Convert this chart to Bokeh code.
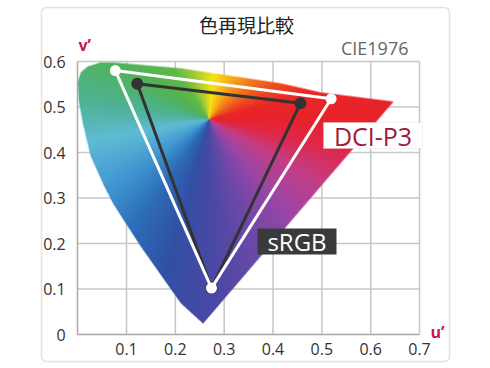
import numpy as np
from bokeh.plotting import figure
from bokeh.models import FixedTicker, Label, BoxAnnotation, Range1d
from bokeh.embed import file_html
from bokeh.resources import INLINE

# ---------------- data ----------------
TITLE = "色再現比較"
SPACE = "CIE1976"
x_ticks = [0.1, 0.2, 0.3, 0.4, 0.5, 0.6, 0.7]
x_labels = ["0.1", "0.2", "0.3", "0.4", "0.5", "0.6", "0.7"]
y_ticks = [0, 0.1, 0.2, 0.3, 0.4, 0.5, 0.6]
y_labels = ["0", "0.1", "0.2", "0.3", "0.4", "0.5", "0.6"]

# spectral locus outline (u', v')
locus_u = [0.256, 0.211, 0.163, 0.129, 0.094, 0.071, 0.053, 0.026, 0.010, 0.002,
           0.000, 0.006, 0.020, 0.047, 0.073, 0.211, 0.415, 0.497, 0.645]
locus_v = [0.024, 0.068, 0.141, 0.193, 0.251, 0.290, 0.328, 0.393, 0.466, 0.514,
           0.554, 0.576, 0.589, 0.598, 0.598, 0.585, 0.552, 0.532, 0.512]

# gamut triangles (G, R, B)
dci_u = [0.077, 0.519, 0.274]
dci_v = [0.580, 0.518, 0.102]
srgb_u = [0.122, 0.456, 0.274]
srgb_v = [0.551, 0.508, 0.102]

# ---------------- layout / styling ----------------
CANVAS_W, CANVAS_H = 490, 368
PX_PER_U, PX_PER_V = 488.3, 455.0
ORIGIN_X, ORIGIN_Y = 77.2, 334.0       # canvas pixel of (0, 0)
U_MIN, U_MAX = 0.0, 0.7
V_MIN, V_MAX = 0.0, 0.6


def U(px):
    return (px - ORIGIN_X) / PX_PER_U


def V(py):
    return (ORIGIN_Y - py) / PX_PER_V


IMG_W = int(round((U_MAX - U_MIN) * PX_PER_U))
IMG_H = int(round((V_MAX - V_MIN) * PX_PER_V))
GRAD_CENTER = (0.268, 0.4725)
hue_stops = [  # angle (deg, screen, ccw from right), rgb
    (0, (232, 34, 44)), (15, (234, 40, 38)), (35, (240, 100, 30)),
    (60, (245, 170, 25)), (85, (246, 228, 20)), (105, (170, 205, 55)),
    (125, (95, 185, 70)), (150, (80, 178, 90)), (172, (78, 178, 150)),
    (190, (95, 188, 212)), (215, (65, 150, 210)), (235, (45, 110, 185)),
    (255, (50, 80, 165)), (272, (75, 72, 165)), (290, (110, 72, 168)),
    (310, (155, 70, 165)), (330, (195, 62, 135)), (348, (225, 40, 70)),
    (360, (232, 34, 44)),
]


def locus_image(ss=3):
    W, H = IMG_W * ss, IMG_H * ss
    PX, PY = np.meshgrid(np.arange(W) + 0.5, np.arange(H) + 0.5)
    xs = np.array(locus_u) / (U_MAX - U_MIN) * W
    ys = np.array(locus_v) / (V_MAX - V_MIN) * H
    inside = np.zeros(PX.shape, bool)
    n = len(xs)
    j = n - 1
    for i in range(n):
        xi, yi, xj, yj = xs[i], ys[i], xs[j], ys[j]
        cond = ((yi > PY) != (yj > PY)) & (PX < (xj - xi) * (PY - yi) / (yj - yi + 1e-12) + xi)
        inside ^= cond
        j = i
    cx = GRAD_CENTER[0] / (U_MAX - U_MIN) * W
    cy = GRAD_CENTER[1] / (V_MAX - V_MIN) * H
    ang = np.degrees(np.arctan2(PY - cy, PX - cx)) % 360
    a_st = np.array([s[0] for s in hue_stops], float)
    rgb = np.zeros(PX.shape + (3,))
    for k in range(3):
        rgb[..., k] = np.interp(ang, a_st, [s[1][k] for s in hue_stops])
    m = inside.astype(float)
    rgb = rgb * m[..., None]
    rgb = rgb.reshape(IMG_H, ss, IMG_W, ss, 3).sum(axis=(1, 3))
    msum = m.reshape(IMG_H, ss, IMG_W, ss).sum(axis=(1, 3))
    col = np.where(msum[..., None] > 0, rgb / np.maximum(msum, 1e-9)[..., None], 0)
    alpha = msum / (ss * ss)
    img = np.empty((IMG_H, IMG_W), dtype=np.uint32)
    view = img.view(dtype=np.uint8).reshape((IMG_H, IMG_W, 4))
    for k in range(3):
        view[..., k] = np.clip(col[..., k], 0, 255).astype(np.uint8)
    view[..., 3] = np.clip(alpha * 255, 0, 255).astype(np.uint8)
    return img


p = figure(width=CANVAS_W, height=CANVAS_H, output_backend="svg", toolbar_location=None,
           x_range=Range1d(U(0), U(CANVAS_W)), y_range=Range1d(V(CANVAS_H), V(0)),
           min_border=0)
p.outline_line_color = None
p.background_fill_color = "white"
p.border_fill_color = "white"
p.xgrid.visible = False
p.ygrid.visible = False

TICK_FONT = "Open Sans"
for ax in (p.xaxis[0], p.yaxis[0]):
    ax.fixed_location = 0
    ax.major_tick_line_color = None
    ax.minor_tick_line_color = None
    ax.axis_line_color = "#a8a8a8"
    ax.axis_line_width = 1.5
    ax.major_label_text_font = TICK_FONT
    ax.major_label_text_font_size = "16px"
    ax.major_label_text_color = "#333333"
p.xaxis[0].bounds = (U_MIN, U_MAX)
p.yaxis[0].bounds = (V_MIN, V_MAX)
p.xaxis[0].ticker = FixedTicker(ticks=x_ticks)
p.xaxis[0].major_label_overrides = dict(zip(x_ticks, x_labels))
p.xaxis[0].major_label_standoff = 2
p.yaxis[0].ticker = FixedTicker(ticks=y_ticks)
p.yaxis[0].major_label_overrides = dict(zip(y_ticks, y_labels))
p.yaxis[0].major_label_standoff = 6

# grid lines limited to the chart area (behind the locus)
GRID = dict(line_color="#c6c6c6", line_width=1.5)
p.segment(x0=x_ticks, y0=[V_MIN] * len(x_ticks), x1=x_ticks, y1=[V_MAX] * len(x_ticks), **GRID)
p.segment(x0=[U_MIN] * (len(y_ticks) - 1), y0=y_ticks[1:], x1=[U_MAX] * (len(y_ticks) - 1),
          y1=y_ticks[1:], **GRID)

p.image_rgba(image=[locus_image()], x=U_MIN, y=V_MIN, dw=U_MAX - U_MIN, dh=V_MAX - V_MIN)

# sRGB (dark) triangle
p.patch(srgb_u, srgb_v, fill_color=None, line_color="#333333", line_width=3, line_join="round")
p.scatter(srgb_u, srgb_v, size=12, fill_color="#333333", line_color=None)
# DCI-P3 (white) triangle
p.patch(dci_u, dci_v, fill_color=None, line_color="white", line_width=3, line_join="round")
p.scatter(dci_u, dci_v, size=11, fill_color="white", line_color=None)

# outer rounded box
p.add_layout(BoxAnnotation(left=U(41), right=U(449), top=V(7), bottom=V(361),
                           fill_color=None, line_color="#a0a0a0", line_width=1.5,
                           border_radius=5, level="overlay"))

# label boxes
p.add_layout(BoxAnnotation(left=U(323), right=U(422), top=V(122), bottom=V(148),
                           fill_color="white", fill_alpha=1, line_color="#d4d4d4", line_width=1))
p.add_layout(BoxAnnotation(left=U(257), right=U(336), top=V(228), bottom=V(254),
                           fill_color="#3a3a3a", fill_alpha=1, line_color=None))

p.add_layout(Label(x=U(246), y=V(24), text=TITLE, text_align="center", text_baseline="middle",
                   text_font="Noto Sans CJK JP", text_font_size="19px", text_color="#222222"))
p.add_layout(Label(x=U(408), y=V(47), text=SPACE, text_align="right", text_baseline="middle",
                   text_font="Open Sans", text_font_size="18px", text_color="#666666"))
p.add_layout(Label(x=U(78), y=V(44), text="v\u2019", text_align="left", text_baseline="middle",
                   text_font="Open Sans", text_font_size="16px", text_font_style="bold",
                   text_color="#c8164b"))
p.add_layout(Label(x=U(430), y=V(331), text="u\u2019", text_align="left", text_baseline="middle",
                   text_font="Open Sans", text_font_size="16px", text_font_style="bold",
                   text_color="#c8164b"))
p.add_layout(Label(x=U(372.5), y=V(135), text="DCI-P3", text_align="center",
                   text_baseline="middle", text_font="Open Sans", text_font_size="25px",
                   text_color="#9e1b3a"))
p.add_layout(Label(x=U(296.5), y=V(241), text="sRGB", text_align="center",
                   text_baseline="middle", text_font="Open Sans", text_font_size="24px",
                   text_color="white"))

open("out.html", "w").write(file_html(p, INLINE))
